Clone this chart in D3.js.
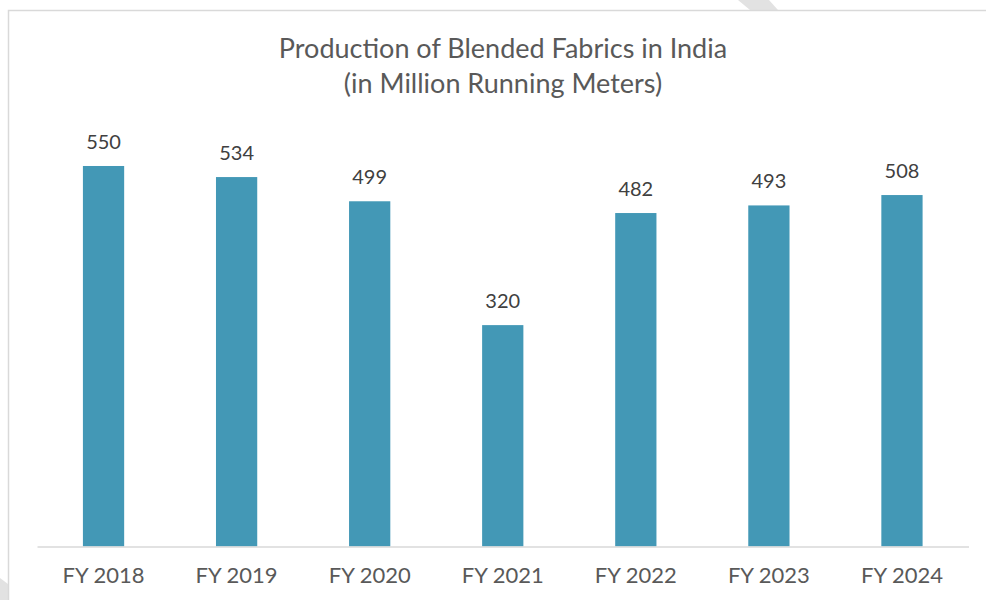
<!DOCTYPE html>
<html lang="en">
<head>
  <meta charset="UTF-8">
  <title>Production of Blended Fabrics in India</title>
  <style>
    body { margin: 0; background: #fff; font-family: Lato, "Open Sans", sans-serif; }
    svg { display: block; }
  </style>
</head>
<body>
  <svg width="986" height="600"></svg>
  <script src="https://d3js.org/d3.v7.min.js"></script>
  <script>
  const years = ["FY 2018", "FY 2019", "FY 2020", "FY 2021", "FY 2022", "FY 2023", "FY 2024"];
  const production = [550, 534, 499, 320, 482, 493, 508];
  const titleLines = ["Production of Blended Fabrics in India", "(in Million Running Meters)"];

  const svg = d3.select("svg");
  const width = 986, height = 600;

  // faint watermark bits peeking out behind the chart frame
  svg.append("polygon")
    .attr("points", "738,0 769,0 778,10 750,10")
    .attr("fill", "#e2e2e2");
  svg.append("polygon")
    .attr("points", "0,578 8,584 8,600 0,600")
    .attr("fill", "#e2e2e2");

  // chart frame (left + top edge)
  svg.append("path")
    .attr("d", "M8.5,600 V10.5 H986")
    .attr("fill", "none")
    .attr("stroke", "#d9d9d9")
    .attr("stroke-width", 1.5);

  const x = d3.scaleBand()
    .domain(years)
    .range([37, 968.5])
    .paddingInner(0.69)
    .paddingOuter(0.345);

  const y = d3.scaleLinear()
    .domain([0, 600])
    .range([546.5, 131.4]);

  // bars
  svg.append("g")
    .selectAll("rect")
    .data(production)
    .join("rect")
    .attr("x", (d, i) => x(years[i]))
    .attr("y", d => y(d))
    .attr("width", x.bandwidth())
    .attr("height", d => y(0) - y(d))
    .attr("fill", "#4398b6");

  // value labels
  svg.append("g")
    .selectAll("text")
    .data(production)
    .join("text")
    .attr("x", (d, i) => x(years[i]) + x.bandwidth() / 2)
    .attr("y", d => y(d) - 17)
    .attr("text-anchor", "middle")
    .attr("fill", "#404040")
    .style("font-size", "20px")
    .text(d => d);

  // x axis
  const xAxis = svg.append("g")
    .attr("transform", `translate(0,${y(0)})`)
    .call(d3.axisBottom(x).tickSize(0).tickPadding(0));
  xAxis.select(".domain").attr("stroke", "#d9d9d9").attr("stroke-width", 1.5);
  xAxis.selectAll("text")
    .attr("dy", null)
    .attr("y", 36.5)
    .attr("fill", "#595959")
    .style("font-family", "Lato, sans-serif")
    .style("font-size", "22px");

  // title
  svg.append("g")
    .selectAll("text")
    .data(titleLines)
    .join("text")
    .attr("x", 503)
    .attr("y", (d, i) => 58 + i * 35)
    .attr("text-anchor", "middle")
    .attr("fill", "#595959")
    .style("font-size", "27px")
    .text(d => d);
  </script>
</body>
</html>
